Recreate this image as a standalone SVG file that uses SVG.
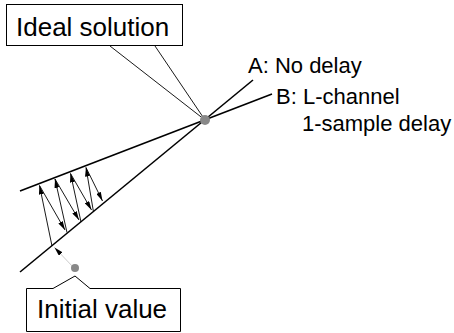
<svg xmlns="http://www.w3.org/2000/svg" width="454" height="333" viewBox="0 0 454 333">
<style>
.main{stroke:#000;stroke-width:1.6;fill:none}
.thin{stroke:#000;stroke-width:0.9;fill:none}
.arr{stroke:#000;stroke-width:0.9;fill:none;marker-end:url(#ah)}
.box{fill:#fff;stroke:#000;stroke-width:1}
text{font-family:"Liberation Sans",Arial,sans-serif;fill:#000}
</style>
<defs>
<marker id="ah" markerWidth="9" markerHeight="5" refX="9" refY="2.5" orient="auto" markerUnits="userSpaceOnUse">
<path d="M0,0 L9,2.5 L0,5 Z" fill="#000"/>
</marker>
</defs>
<g id="connectors">
<line class="main" x1="20" y1="272" x2="253" y2="80"/>
<line class="main" x1="20" y1="191" x2="272" y2="94"/>
<line class="thin" x1="110" y1="46" x2="205" y2="120"/>
<line class="thin" x1="155" y1="46" x2="205" y2="120"/>
<line stroke="#ccc" stroke-width="1" x1="74" y1="268" x2="54.5" y2="247.5" marker-end="url(#ah)"/>
<line class="arr" x1="52" y1="246" x2="39.5" y2="185.5"/>
<line class="arr" x1="39.5" y1="185.5" x2="65" y2="230"/>
<line class="arr" x1="67" y1="232.5" x2="55" y2="179"/>
<line class="arr" x1="55" y1="179" x2="79" y2="220"/>
<line class="arr" x1="81" y1="222" x2="70.5" y2="173.5"/>
<line class="arr" x1="70.5" y1="173.5" x2="91.5" y2="210"/>
<line class="arr" x1="93.5" y1="212" x2="86" y2="167.5"/>
<line class="arr" x1="86" y1="167.5" x2="102.5" y2="201"/>
</g>
<g id="ideal">
<rect class="box" x="6.5" y="4.5" width="176" height="41"/>
<text x="16" y="36" font-size="26">Ideal solution</text>
<circle cx="205" cy="120" r="5" fill="#888"/>
</g>
<g id="labelA">
<text x="248" y="73" font-size="22">A: No delay</text>
</g>
<g id="labelB">
<text x="276" y="103.5" font-size="22">B: L-channel</text>
<text x="302" y="130.5" font-size="22">1-sample delay</text>
</g>
<g id="initial">
<circle cx="75" cy="268" r="4" fill="#888"/>
<path class="box" d="M53,288.5 L75,276 L90,288.5 L180.5,288.5 L180.5,331.5 L26.5,331.5 L26.5,288.5 Z"/>
<text x="37" y="318" font-size="26">Initial value</text>
</g>
</svg>
